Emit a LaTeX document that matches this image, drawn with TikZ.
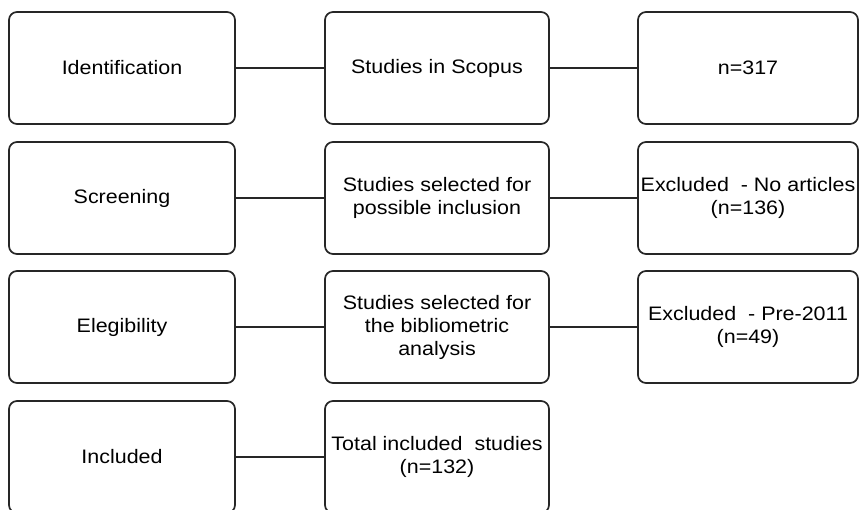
\documentclass[tikz,border=0pt]{standalone}
\usepackage{fontspec}
\setmainfont{Liberation Sans}[FakeStretch=1.1]
\begin{document}
\begin{tikzpicture}[x=1pt,y=-1pt,
  box/.style={draw=black!85, line width=1.7pt, rounded corners=8pt, align=center,
    inner sep=0pt, minimum height=112pt, font=\fontsize{19.5}{23}\selectfont, text=black},
  colA/.style={box, minimum width=226pt},
  colB/.style={box, minimum width=224pt},
  colC/.style={box, minimum width=220pt},
  link/.style={draw=black!85, line width=1.8pt}]
\useasboundingbox (0,0) rectangle (859,510);
\clip (0,0) rectangle (859,510);
% rows
\node[colA] (id)  at (122,68) {Identification};
\node[colB] (sc)  at (437,68) {Studies in Scopus};
\node[colC] (n1)  at (748,68) {n=317};

\node[colA] (scr) at (122,198) {Screening};
\node[colB] (sel) at (437,198) {Studies selected for\\possible inclusion};
\node[colC] (ex1) at (748,198) {Excluded~ - No articles\\(n=136)};

\node[colA] (ele) at (122,327) {Elegibility};
\node[colB] (bib) at (437,327) {Studies selected for\\the bibliometric\\analysis};
\node[colC] (ex2) at (748,327) {Excluded~ - Pre-2011\\(n=49)};

\node[colA] (inc) at (122,457) {Included};
\node[colB] (tot) at (437,457) {Total included~ studies\\(n=132)};

\draw[link] (id) -- (sc);
\draw[link] (sc) -- (n1);
\draw[link] (scr) -- (sel);
\draw[link] (sel) -- (ex1);
\draw[link] (ele) -- (bib);
\draw[link] (bib) -- (ex2);
\draw[link] (inc) -- (tot);
\end{tikzpicture}
\end{document}
